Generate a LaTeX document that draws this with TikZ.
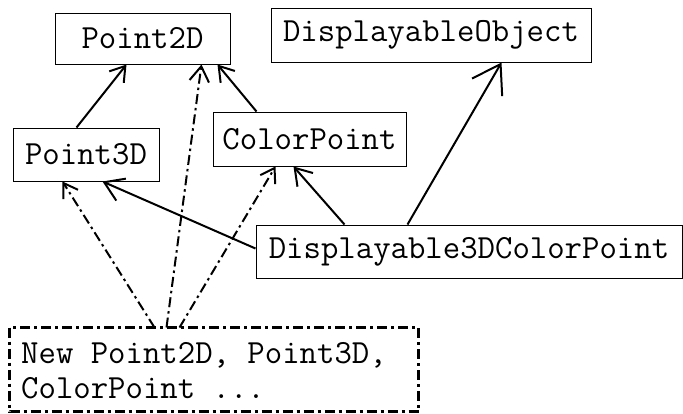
\documentclass[tikz,border=0pt]{standalone}
\usetikzlibrary{arrows.meta}
\begin{document}
\begin{tikzpicture}[x=1pt,y=-1pt,
  lbl/.style={font=\ttfamily\fontsize{33.8}{35}\selectfont},
  box/.style={draw, line width=1pt, inner sep=0pt, lbl},
  tip/.style={-{Straight Barb[angle=66:#1, line width=2pt]}},
  inh/.style={line width=2pt, tip=#1},
  inh/.default=17pt,
  dd/.style={line width=2pt, dash pattern=on 10pt off 4pt on 2.5pt off 4pt, tip=#1},
  dd/.default=16pt]
\useasboundingbox (0,0) rectangle (683,413);
\node[box, minimum width=175pt, minimum height=51pt] (p2) at (142.5,38.5) {Point2D};
\node[box, minimum width=320pt, minimum height=54pt] (dobj) at (431,35) {DisplayableObject};
\node[box, minimum width=146pt, minimum height=53pt] (p3) at (86,154.5) {Point3D};
\node[box, minimum width=193pt, minimum height=54pt] (cp) at (309.5,139) {ColorPoint};
\node[box, minimum width=426pt, minimum height=53pt] (d3) at (469,251.5) {Displayable3DColorPoint};
\node[box, draw=none, minimum width=408pt, minimum height=83pt] (nb) at (214,369.5) {};
\draw[line width=2.5pt, dash pattern=on 10pt off 4pt on 3pt off 4pt] (nb.north west) rectangle (nb.south east);
\node[lbl, anchor=west, align=left, inner sep=0pt] (nbt) at (21,371) {New Point2D, Point3D,\\ColorPoint ...};
\draw[inh] ([xshift=64pt]p3.north west) -- ([xshift=72pt]p2.south west);
\draw[inh] ([xshift=44pt]cp.north west) -- ([xshift=-13pt]p2.south east);
\draw[inh=19pt] ([xshift=89pt]d3.north west) -- ([xshift=81pt]cp.south west);
\draw[inh=32pt] ([xshift=152pt]d3.north west) -- ([xshift=231pt]dobj.south west);
\draw[inh=22pt] ([yshift=3pt]d3.west) -- ([xshift=90pt]p3.south west);
\draw[dd] ([xshift=145pt]nb.north west) -- ([xshift=50pt]p3.south west);
\draw[dd=18pt] ([xshift=157pt]nb.north west) -- ([xshift=147pt]p2.south west);
\draw[dd] ([xshift=170pt]nb.north west) -- ([xshift=63pt]cp.south west);
\end{tikzpicture}
\end{document}
